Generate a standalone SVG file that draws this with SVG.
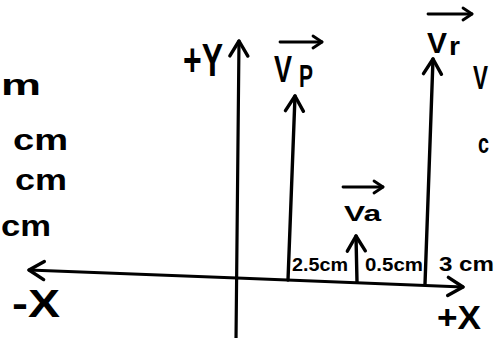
<svg xmlns="http://www.w3.org/2000/svg" width="496" height="338" viewBox="0 0 496 338">
<style>
  text { font-family: "Liberation Sans", Arial, sans-serif; fill: #000; font-weight: bold; }
  .ax { stroke: #000; stroke-width: 3.2; fill: none; stroke-linecap: round; }
  .vec { stroke: #000; stroke-width: 3.4; fill: none; stroke-linecap: round; }
  .ov { stroke: #000; stroke-width: 2.8; fill: none; stroke-linecap: round; }
</style>
<defs>
  <marker id="big" markerUnits="userSpaceOnUse" viewBox="-18 -12 22 24" markerWidth="22" markerHeight="24" refX="0" refY="0" orient="auto" overflow="visible">
    <path d="M-15,-9 L0,0 L-15,9" fill="none" stroke="#000" stroke-width="3.4" stroke-linecap="round" stroke-linejoin="round"/>
  </marker>
  <marker id="small" markerUnits="userSpaceOnUse" viewBox="-12 -8 14 16" markerWidth="14" markerHeight="16" refX="0" refY="0" orient="auto" overflow="visible">
    <path d="M-9,-6 L0,0 L-9,6" fill="none" stroke="#000" stroke-width="2.8" stroke-linecap="round" stroke-linejoin="round"/>
  </marker>
</defs>
<rect width="496" height="338" fill="#fff"/>

<g id="connectors">
  <line class="ax" x1="236" y1="340" x2="239" y2="41" marker-end="url(#big)"/>
  <line class="ax" x1="237" y1="278" x2="29" y2="270" marker-end="url(#big)"/>
  <line class="ax" x1="237" y1="278" x2="463" y2="287" marker-end="url(#big)"/>
  <line class="vec" x1="288" y1="280" x2="295" y2="96" marker-end="url(#big)"/>
  <line class="vec" x1="357" y1="282" x2="356" y2="236" marker-end="url(#big)"/>
  <line class="vec" x1="425" y1="284" x2="433" y2="59" marker-end="url(#big)"/>
</g>

<g id="left-labels">
  <text x="1" y="95" font-size="30" textLength="40" lengthAdjust="spacingAndGlyphs">m</text>
  <text x="13" y="150" font-size="30" textLength="55" lengthAdjust="spacingAndGlyphs">cm</text>
  <text x="15" y="190" font-size="30" textLength="52" lengthAdjust="spacingAndGlyphs">cm</text>
  <text x="1" y="236" font-size="30" textLength="50" lengthAdjust="spacingAndGlyphs">cm</text>
</g>

<g id="right-labels">
  <text x="473" y="89" font-size="34" textLength="15" lengthAdjust="spacingAndGlyphs">V</text>
  <text x="478" y="153" font-size="28" textLength="11" lengthAdjust="spacingAndGlyphs">c</text>
</g>

<g id="axis-y-label"><text x="183" y="76" font-size="46" textLength="40" lengthAdjust="spacingAndGlyphs">+Y</text></g>
<g id="axis-negx-label"><text x="12" y="317" font-size="38" textLength="48" lengthAdjust="spacingAndGlyphs">-X</text></g>
<g id="axis-posx-label"><text x="437" y="329" font-size="34" textLength="44" lengthAdjust="spacingAndGlyphs">+X</text></g>

<g id="vp-label">
  <line class="ov" x1="280" y1="42" x2="322" y2="42" marker-end="url(#small)"/>
  <text x="274" y="82" font-size="36" textLength="18" lengthAdjust="spacingAndGlyphs">V</text>
  <text x="299" y="87" font-size="32" textLength="14" lengthAdjust="spacingAndGlyphs">P</text>
</g>

<g id="vr-label">
  <line class="ov" x1="428" y1="14" x2="472" y2="14" marker-end="url(#small)"/>
  <text x="427" y="53" font-size="29" textLength="20" lengthAdjust="spacingAndGlyphs">V</text>
  <text x="449" y="55" font-size="26" textLength="11" lengthAdjust="spacingAndGlyphs">r</text>
</g>

<g id="va-label">
  <line class="ov" x1="343" y1="187" x2="383" y2="187" marker-end="url(#small)"/>
  <text x="344" y="221" font-size="22" textLength="37" lengthAdjust="spacingAndGlyphs">Va</text>
</g>

<g id="dist-labels">
  <text x="292" y="271" font-size="18" textLength="56" lengthAdjust="spacingAndGlyphs">2.5cm</text>
  <text x="365" y="271" font-size="18" textLength="58" lengthAdjust="spacingAndGlyphs">0.5cm</text>
  <text x="439" y="271" font-size="21" textLength="55" lengthAdjust="spacingAndGlyphs">3 cm</text>
</g>
</svg>
